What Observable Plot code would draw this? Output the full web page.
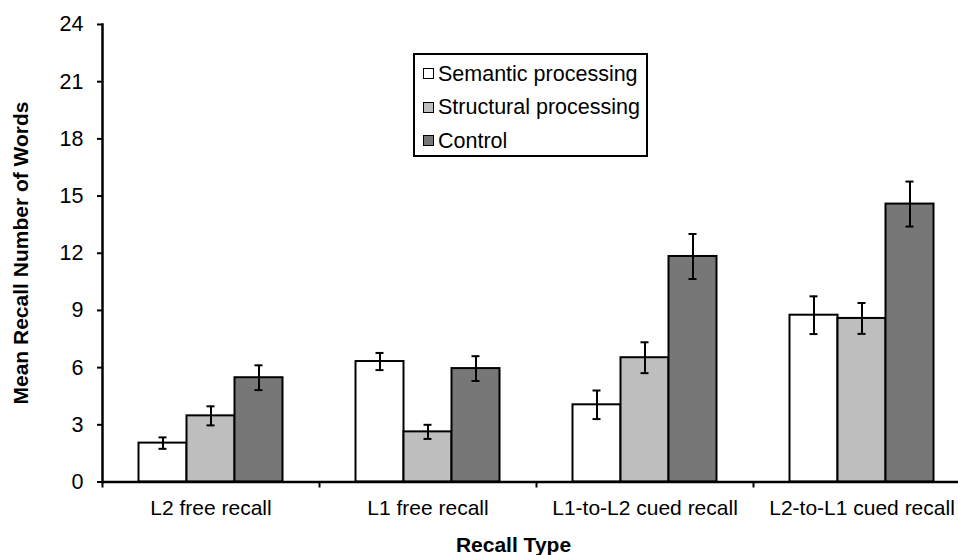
<!DOCTYPE html>
<html><head><meta charset="utf-8">
<script src="https://cdn.jsdelivr.net/npm/d3@7"></script>
<script src="https://cdn.jsdelivr.net/npm/@observablehq/plot@0.6"></script>
<style>
body{margin:0;background:#fff}
#wrap{position:relative;width:958px;height:555px;overflow:hidden;font-family:"Liberation Sans",Arial,sans-serif;color:#000}
#wrap svg{position:absolute;left:0;top:0}
.ytitle{position:absolute;left:20px;top:252.7px;transform:translate(-50%,-50%) rotate(-90deg);white-space:nowrap;font-weight:bold;font-size:21px;line-height:21px}
.xtitle{position:absolute;left:513.5px;top:543.7px;transform:translate(-50%,-50%);white-space:nowrap;font-weight:bold;font-size:21px;line-height:21px}
.legend{position:absolute;left:413px;top:53px;width:231px;height:100px;border:2px solid #000;background:#fff}
.legend .row{position:absolute;left:8px;display:flex;align-items:center;font-size:21.5px;line-height:22px;white-space:nowrap}
.legend .sw{width:9px;height:9px;border:1.5px solid #000;margin-right:4px;flex:none}
</style></head><body><div id="wrap"></div>
<script>
const categories = ["L2 free recall", "L1 free recall", "L1-to-L2 cued recall", "L2-to-L1 cued recall"];
const series = ["Semantic processing", "Structural processing", "Control"];
const semantic = [2.04, 6.32, 4.05, 8.75];
const semanticErr = [0.30, 0.45, 0.75, 0.99];
const structural = [3.47, 2.63, 6.52, 8.58];
const structuralErr = [0.50, 0.37, 0.81, 0.81];
const control = [5.47, 5.95, 11.83, 14.58];
const controlErr = [0.65, 0.65, 1.18, 1.18];
const yTicks = [0, 3, 6, 9, 12, 15, 18, 21, 24];
const colors = ["#ffffff", "#bebebe", "#777777"];
const xTitle = "Recall Type";
const yTitle = "Mean Recall Number of Words";

const values = [semantic, structural, control];
const errors = [semanticErr, structuralErr, controlErr];
const table = [];
categories.forEach((c, i) => series.forEach((s, k) => {
  table.push({cat: c, series: s, value: values[k][i], lo: values[k][i] - errors[k][i], hi: values[k][i] + errors[k][i]});
}));

const font = '"Liberation Sans", Arial, sans-serif';
const chart = Plot.plot({
  width: 958, height: 555,
  marginLeft: 101.5, marginRight: 0, marginTop: 24, marginBottom: 73.5,
  style: {fontFamily: font, fontSize: "20px", color: "#000", background: "transparent", overflow: "hidden"},
  fx: {domain: categories, range: [101.5, 969.5], padding: 0, label: null},
  x: {domain: series, paddingInner: 0, paddingOuter: 0.76, axis: null},
  y: {domain: [0, 24], axis: null},
  color: {domain: series, range: colors},
  marks: [
    Plot.barY(table, {fx: "cat", x: "series", y: "value", fill: "series", stroke: "#000", strokeWidth: 2}),
    Plot.ruleX(table, {fx: "cat", x: "series", y1: "lo", y2: "hi", stroke: "#000", strokeWidth: 2}),
    Plot.tickY(table, {fx: "cat", x: "series", y: "lo", stroke: "#000", strokeWidth: 2, insetLeft: 20, insetRight: 20}),
    Plot.tickY(table, {fx: "cat", x: "series", y: "hi", stroke: "#000", strokeWidth: 2, insetLeft: 20, insetRight: 20}),
    Plot.ruleY([0], {stroke: "#000", strokeWidth: 2.5}),
    Plot.frame({anchor: "left", facetAnchor: "left", stroke: "#000", strokeWidth: 2.5}),
    Plot.axisY({ticks: yTicks, tickSize: 5, tickPadding: 14, fontSize: 21.5, strokeWidth: 2, label: null}),
    Plot.axisFx({anchor: "bottom", tickSize: 0, tickPadding: 18, fontSize: 21, label: null}),
    Plot.axisFx({anchor: "bottom", tickSize: 6, tickFormat: () => "", dx: -108.5, strokeWidth: 2, label: null})
  ]
});

const wrap = document.getElementById("wrap");
wrap.appendChild(chart);
const yt = document.createElement("div"); yt.className = "ytitle"; yt.textContent = yTitle; wrap.appendChild(yt);
const xt = document.createElement("div"); xt.className = "xtitle"; xt.textContent = xTitle; wrap.appendChild(xt);
const lg = document.createElement("div"); lg.className = "legend";
const rowTops = [7.5, 41, 74.5];
series.forEach((s, k) => {
  const r = document.createElement("div"); r.className = "row"; r.style.top = rowTops[k] + "px";
  const sw = document.createElement("span"); sw.className = "sw"; sw.style.background = colors[k];
  const t = document.createElement("span"); t.textContent = s;
  r.appendChild(sw); r.appendChild(t); lg.appendChild(r);
});
wrap.appendChild(lg);
</script></body></html>
